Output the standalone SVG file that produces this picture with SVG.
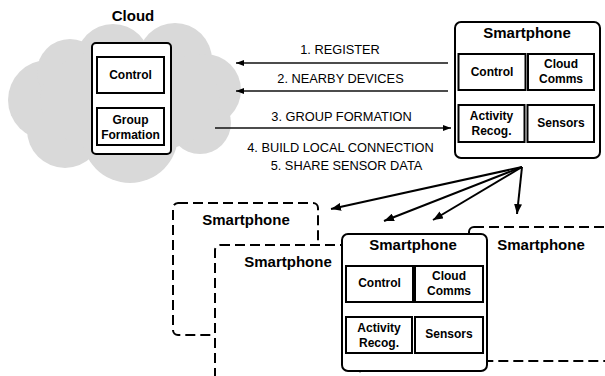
<svg xmlns="http://www.w3.org/2000/svg" width="605" height="376" viewBox="0 0 605 376">
<style>
text{font-family:"Liberation Sans",Arial,sans-serif;fill:#000;text-anchor:middle}
.t{font-size:15px;font-weight:bold}
.b{font-size:12px;font-weight:bold}
.l{font-size:12.8px}
.box{fill:#fff;stroke:#000;stroke-width:2}
.dash{fill:#fff;stroke:#000;stroke-width:2;stroke-dasharray:10 5}
.cl{fill:#d9d9d9}
.h{stroke:#111;stroke-width:1.3;fill:none}
.f{stroke:#000;stroke-width:2;fill:none}
</style>
<defs>
<marker id="ah" markerUnits="userSpaceOnUse" markerWidth="8" markerHeight="6" refX="8" refY="3" orient="auto"><path d="M0,0 L8,3 L0,6 z" fill="#000"/></marker>
<marker id="af" markerUnits="userSpaceOnUse" markerWidth="10" markerHeight="8" refX="10" refY="4" orient="auto"><path d="M0,0 L10,4 L0,8 z" fill="#000"/></marker>
</defs>
<rect width="605" height="376" fill="#fff"/>

<g id="cloud">
<g class="cl">
<circle cx="48" cy="100" r="40"/>
<circle cx="70" cy="72" r="33"/>
<circle cx="113" cy="61" r="37"/>
<circle cx="175" cy="60" r="37"/>
<circle cx="205" cy="90" r="36"/>
<circle cx="200" cy="123" r="31"/>
<circle cx="130" cy="135" r="48"/>
<circle cx="65" cy="130" r="38"/>
<ellipse cx="130" cy="100" rx="90" ry="55"/>
</g>
<text class="t" x="133" y="21">Cloud</text>
<rect class="box" x="92" y="43" width="79" height="111" rx="4"/>
<rect class="box" x="97" y="57" width="67" height="36"/>
<text class="b" x="130.5" y="79">Control</text>
<rect class="box" x="97" y="108" width="67" height="37"/>
<text class="b" x="130.5" y="124">Group</text>
<text class="b" x="130.5" y="139">Formation</text>
</g>

<g id="connectors">
<line class="h" x1="448" y1="63" x2="236" y2="63" marker-end="url(#ah)"/>
<line class="h" x1="448" y1="91" x2="236" y2="91" marker-end="url(#ah)"/>
<line class="h" x1="215" y1="128" x2="451" y2="128" marker-end="url(#ah)"/>
<text class="l" x="340" y="54">1. REGISTER</text>
<text class="l" x="340.5" y="83">2. NEARBY DEVICES</text>
<text class="l" x="341.5" y="121">3. GROUP FORMATION</text>
<text class="l" x="340.5" y="152">4. BUILD LOCAL CONNECTION</text>
<text class="l" x="346.5" y="170">5. SHARE SENSOR DATA</text>
<line class="f" x1="522" y1="167" x2="331" y2="209" marker-end="url(#af)"/>
<line class="f" x1="522" y1="167" x2="384" y2="221" marker-end="url(#af)"/>
<line class="f" x1="522" y1="167" x2="433" y2="220" marker-end="url(#af)"/>
<line class="f" x1="522" y1="167" x2="517" y2="214" marker-end="url(#af)"/>
</g>

<g id="phone-top" transform="translate(455,22)">
<rect class="box" x="0" y="0" width="145" height="136" rx="6"/>
<text class="t" x="72" y="16">Smartphone</text>
<rect class="box" x="3.5" y="32" width="67" height="36"/>
<text class="b" x="37" y="54">Control</text>
<rect class="box" x="73" y="32" width="66" height="36"/>
<text class="b" x="106" y="46">Cloud</text>
<text class="b" x="106" y="61">Comms</text>
<rect class="box" x="3.5" y="83" width="66" height="37"/>
<text class="b" x="36.5" y="98">Activity</text>
<text class="b" x="36.5" y="113">Recog.</text>
<rect class="box" x="72.5" y="83" width="66.5" height="37"/>
<text class="b" x="106" y="105">Sensors</text>
</g>

<g id="phone-dashed-1">
<rect class="dash" x="173" y="203" width="145" height="132" rx="5"/>
<text class="t" x="246" y="225">Smartphone</text>
</g>

<g id="phone-dashed-2">
<rect class="dash" x="215" y="245" width="145" height="145" rx="5"/>
<text class="t" x="288" y="267">Smartphone</text>
</g>

<g id="phone-dashed-3">
<rect class="dash" x="469" y="227" width="145" height="134" rx="5"/>
<text class="t" x="541" y="250">Smartphone</text>
</g>

<g id="phone-bottom" transform="translate(342,234)">
<rect class="box" x="0" y="0" width="145" height="137" rx="6"/>
<text class="t" x="71" y="16">Smartphone</text>
<rect class="box" x="4" y="32" width="67" height="36"/>
<text class="b" x="37.5" y="53">Control</text>
<rect class="box" x="73" y="32" width="68" height="36"/>
<text class="b" x="107" y="46">Cloud</text>
<text class="b" x="107" y="61">Comms</text>
<rect class="box" x="4" y="83" width="66" height="36"/>
<text class="b" x="37" y="98">Activity</text>
<text class="b" x="37" y="113">Recog.</text>
<rect class="box" x="73" y="83" width="68" height="36"/>
<text class="b" x="107" y="104">Sensors</text>
</g>
</svg>
